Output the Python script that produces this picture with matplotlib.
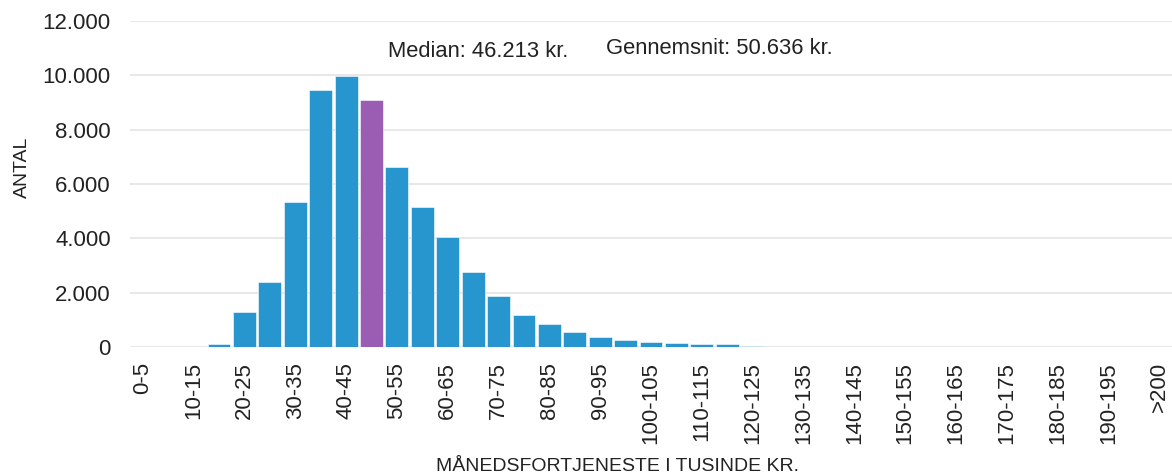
import matplotlib.pyplot as plt
import matplotlib.ticker as ticker

plt.rcParams['font.family'] = ['Liberation Sans', 'DejaVu Sans']

# income brackets in thousand kr. (0-5, 5-10, ... 195-200, >200)
brackets = [f'{lo}-{lo + 5}' for lo in range(0, 200, 5)] + ['>200']

counts = [0, 0, 0, 100, 1270, 2400, 5340, 9470, 9980, 9100,
          6630, 5160, 4050, 2760, 1890, 1195, 835, 540, 357, 272,
          173, 136, 100, 100, 50, 0, 0, 0, 0, 0,
          0, 0, 0, 0, 0, 0, 0, 0, 0, 0,
          0]

median_bracket = '45-50'
median_text = 'Median: 46.213 kr.'
mean_text = 'Gennemsnit: 50.636 kr.'

blue = '#2796ce'
purple = '#9b5cb4'
colors = [purple if b == median_bracket else blue for b in brackets]

fig = plt.figure(figsize=(11.72, 4.73), dpi=100)
ax = fig.add_axes([0.111, 0.2664, 0.889, 0.6892])

x = list(range(len(brackets)))
ax.bar(x, counts, width=0.9, color=colors, edgecolor='#ffffff', linewidth=0.4, zorder=3)

ax.set_xlim(-0.5, len(brackets) - 0.5)
ax.set_ylim(0, 12000)
ax.yaxis.set_major_locator(ticker.MultipleLocator(2000))
ax.yaxis.set_major_formatter(ticker.FuncFormatter(lambda v, p: f'{int(v):,}'.replace(',', '.')))
ax.grid(axis='y', color='#e8e8e8', linewidth=1.4, zorder=0)

shown = [i for i in x if i % 2 == 0]
ax.set_xticks(shown)
ax.set_xticklabels([brackets[i] for i in shown], rotation=90, va='top', ha='center')

ax.tick_params(axis='both', length=0, labelsize=16, labelcolor='#222222')
ax.tick_params(axis='y', pad=14)
ax.tick_params(axis='x', pad=11)
for s in ax.spines.values():
    s.set_visible(False)

ax.set_ylabel('ANTAL', fontsize=14, color='#222222')
ax.yaxis.set_label_coords(-0.095, 0.55)
ax.set_xlabel('MÅNEDSFORTJENESTE I TUSINDE KR.', fontsize=14, color='#222222')
ax.xaxis.set_label_coords(0.468, -0.34)

ax.text(9.65, 10680, median_text, fontsize=15.8, color='#222222', va='baseline')
ax.text(18.23, 10780, mean_text, fontsize=15.8, color='#222222', va='baseline')

fig.savefig('out.png', dpi=100)
